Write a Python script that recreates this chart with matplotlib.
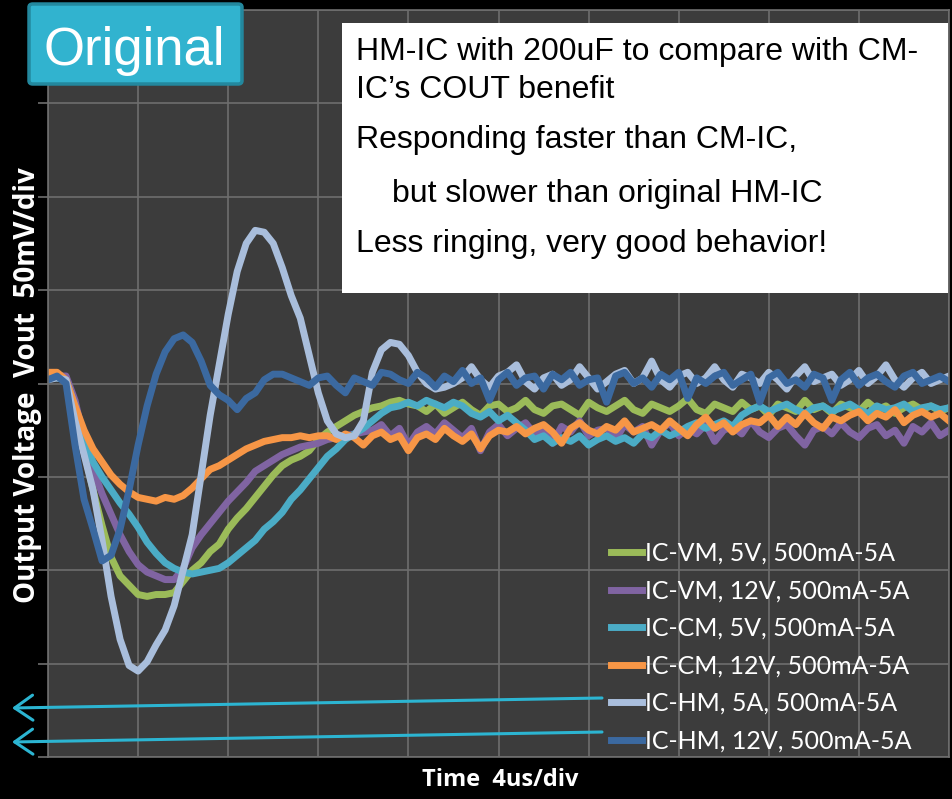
import numpy as np
import matplotlib
matplotlib.use('Agg')
import matplotlib.pyplot as plt
from matplotlib.patches import Rectangle, FancyBboxPatch

# sample spacing of the scope traces, in us
dt = 0.4

# output voltage deviation in mV (50 mV/div), one sample every dt
vm_5v = [5, 5, 3, -14, -36, -57, -76, -93, -103, -108, -113, -114, -113, -113, -112, -106,
         -100, -96, -90, -86, -78, -72, -67, -61, -55, -49, -44, -41, -39, -36, -30, -26,
         -23, -20, -17, -15, -13, -12, -10, -9, -11,
         -12, -15, -11, -16, -13, -10, -14, -17, -12, -11, -15, -13, -9, -14, -16, -12,
         -11, -14, -17, -10, -13, -15, -12, -9, -14, -16, -11, -13, -15, -12, -8, -14,
         -16, -11, -13, -15, -10, -14, -12, -17, -11, -13, -15, -9, -14, -12, -16, -11,
         -13, -15, -10, -14, -12, -16, -13, -11, -14, -12, -15, -13]
vm_12v = [3, 4, 4, -9, -30, -46, -59, -70, -81, -90, -97, -101, -103, -105, -105, -99,
          -88, -81, -75, -69, -63, -58, -53, -47, -44, -41, -38, -36, -34, -33, -32, -30,
          -29, -28, -27, -26,
          -25, -22, -28, -24, -33, -26, -23, -27, -21, -25, -29, -24, -36, -26, -22, -28,
          -24, -21, -27, -25, -32, -23, -26, -20, -28, -25, -24, -30, -22, -26, -23, -33,
          -25, -21, -28, -24, -27, -22, -31, -25, -23, -27, -20, -26, -29, -24, -22, -28,
          -33, -25, -23, -27, -21, -26, -29, -24, -22, -28, -25, -32, -23, -26, -21, -28, -25]
cm_5v = [3, 3, 2, -12, -30, -42, -50, -57, -64, -70, -77, -85, -91, -96, -99, -101,
         -102, -101, -100, -99, -96, -92, -88, -84, -78, -74, -69, -62, -57, -51, -45, -39,
         -35, -30, -27, -24, -20, -16, -13, -12,
         -10, -12, -9, -11, -13, -10, -12, -16, -18, -15, -20, -17, -21, -25, -30, -28,
         -32, -29, -31, -28, -33, -30, -28, -31, -29, -32, -27, -29, -25, -28, -26, -23,
         -21, -24, -22, -20, -23, -17, -14, -12, -15, -13, -11, -14, -16, -13, -12, -15,
         -13, -11, -14, -16, -12, -14, -13, -11, -15, -13, -12, -14, -13]
cm_12v = [6, 6, 2, -12, -25, -35, -42, -49, -54, -58, -61, -62, -63, -61, -62, -60,
          -56, -51, -46, -44, -41, -38, -35, -33, -31, -30, -29, -29, -28, -29, -28,
          -28, -30, -27, -29, -33, -28, -26, -30, -28, -36, -29, -27, -30, -24, -28, -31,
          -27, -35, -28, -25,
          -26, -23, -27, -24, -22, -26, -32, -24, -21, -25, -27, -23, -25, -20, -26, -24,
          -22, -25, -20, -24, -28, -22, -18, -24, -21, -26, -22, -20,
          -21, -17, -23, -18, -22, -16, -21, -24, -18, -20,
          -17, -15, -20, -16, -18, -14, -21, -17, -15, -18, -16, -20]
hm_5a = [2, 3, 2, -20, -38, -57, -84, -114, -137, -151, -154, -149, -140, -132, -119, -100,
         -81, -49, -17, 10, 37, 60, 75, 82, 81, 75, 62, 47, 35, 15, -5, -20,
         -27, -29, -28, -20, 6, 18, 22, 21, 15, 6, 0, -3, -2,
         0, 3, 9, 2, -2, 4, 6, 10, 1, -3, 3, 5, -1, 2, 9, 3,
         -3, 1, 5, 7, 0, 3, 12, 2, -2, 4, 6, 0, 3, 9, 2, -2,
         5, 3, 0, 6, 2, -3, 4, 9, 1, 3, 5, -1, 2, 7, 0, 4,
         10, 2, -2, 3, 6, 0, 2, 4]
hm_12v = [2, 4, 0, -33, -62, -78, -95, -92, -78, -57, -33, -12, 5, 17, 24, 26,
          22, 12, -1, -6, -9, -14, -8, -5, 2, 5, 5, 3, 1, -1, 3, 4,
          -1, -5, 3, 1, -1, 6, 5, 2, 0,
          6, 3, -2, 4, 1, 7, 0, 3, -9, 2, 6, -1, 3, 4, -3, 5,
          2, 6, -1, 2, 3, -10, 4, 6, 0, 3, -2, 5, 2, 6, -8, 3,
          0, 4, 6, -1, 2, 5, -10, 3, 6, 0, 2, -2, 5, 3, -9, 2,
          6, -1, 3, 5, 1, -2, 4, 6, 0, 2, 4, 1]

series = [vm_5v, vm_12v, cm_5v, cm_12v, hm_5a, hm_12v]
labels = ['IC-VM, 5V, 500mA-5A', 'IC-VM, 12V, 500mA-5A', 'IC-CM, 5V, 500mA-5A',
          'IC-CM, 12V, 500mA-5A', 'IC-HM, 5A, 500mA-5A', 'IC-HM, 12V, 500mA-5A']
colors = ['#9bbb59', '#8064a2', '#4bacc6', '#f79646', '#a9bedc', '#3b69a0']

notes = ['HM-IC with 200uF to compare with CM-', 'IC\u2019s COUT benefit',
         'Responding faster than CM-IC,', 'but slower than original HM-IC',
         'Less ringing, very good behavior!']

W, H = 953, 799
fig = plt.figure(figsize=(W / 100, H / 100), dpi=100, facecolor='black')
ax = fig.add_axes([48 / W, 1 - 757 / H, 901 / W, 747 / H])
ax.set_facecolor('#3c3c3c')

for vals, lab, col in zip(series, labels, colors):
    t = dt * np.arange(len(vals))
    ax.plot(t, vals, color=col, lw=5, label=lab)

ax.set_xlim(0, 40)
ax.set_ylim(-200, 200)
ax.set_xticks(np.arange(0, 41, 4))
ax.set_yticks(np.arange(-200, 201, 50))
ax.set_axisbelow(True)
ax.grid(True, color='#6e6e6e', lw=1.2)
ax.tick_params(axis='x', length=0, labelbottom=False)
ax.tick_params(axis='y', length=7, width=1.2, color='#6e6e6e', labelleft=False)
for s in ax.spines.values():
    s.set_color('#6e6e6e')
    s.set_linewidth(1.2)

ax.legend(loc='upper left', bbox_to_anchor=(611 / W, 1 - 542 / H),
          bbox_transform=fig.transFigure, frameon=False, borderpad=0,
          borderaxespad=0, handlelength=1.25, handletextpad=0.1, labelspacing=0.58,
          prop={'family': 'Lato', 'size': 18}, labelcolor='white')

# axis titles
fig.text(28 / W, 1 - 385 / H, 'Output Voltage  Vout  50mV/div', rotation=90,
         color='white', fontweight='bold', family='Open Sans', fontsize=20,
         ha='center', va='center')
fig.text(500 / W, 1 - 780 / H, 'Time  4us/div', color='white', fontweight='bold',
         family='Open Sans', fontsize=17, ha='center', va='center')

# "Original" tag
fig.patches.append(FancyBboxPatch((29 / W, 1 - 84 / H), 213 / W, 80 / H,
                                  boxstyle='round,pad=0,rounding_size=0.004',
                                  transform=fig.transFigure, fc='#31b3cf',
                                  ec='#23889e', lw=2.5, zorder=3))
fig.text(44 / W, 1 - 65 / H, 'Original', color='white', family='Liberation Sans',
         fontsize=38, va='baseline', zorder=4)

# note box
fig.patches.append(Rectangle((342 / W, 1 - 293 / H), 606 / W, 270 / H,
                             transform=fig.transFigure, fc='white', ec='none', zorder=3))
for txt, x, y in zip(notes, [356, 356, 356, 392, 356], [60, 98, 148, 202, 252]):
    fig.text(x / W, 1 - y / H, txt, color='black', family='Liberation Sans',
             fontsize=23, va='baseline', zorder=4)

# pointers from the HM legend entries
for y0, y1 in [(101, 91), (67, 57)]:
    ax.annotate('', xy=(12, y1), xycoords='figure pixels', xytext=(602, y0),
                textcoords='figure pixels', annotation_clip=False,
                arrowprops=dict(arrowstyle='->,head_length=0.65,head_width=0.45',
                                color='#2cb5d2', lw=2.2, mutation_scale=20,
                                shrinkA=0, shrinkB=0))

fig.savefig('out.png', dpi=100, facecolor='black')
